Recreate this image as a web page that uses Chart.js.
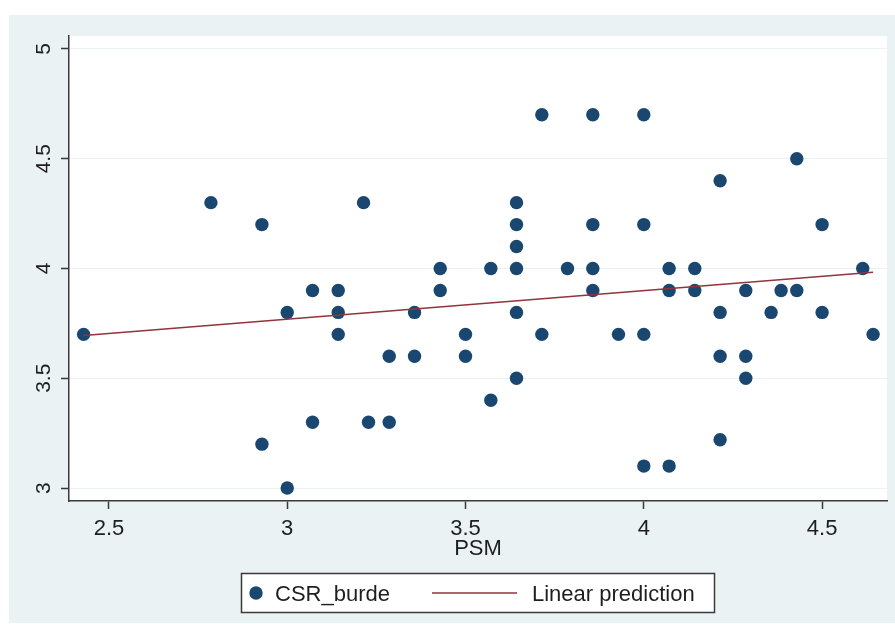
<!DOCTYPE html>
<html>
<head>
<meta charset="utf-8">
<title>CSR_burde x PSM</title>
<script src="https://cdn.jsdelivr.net/npm/chart.js@4.4.1/dist/chart.umd.min.js"></script>
<style>
  body { margin: 0; background: #ffffff; }
  canvas { display: block; }
</style>
</head>
<body>
<canvas id="grafico" width="895" height="624"></canvas>
<script>
// valores (PSM no eixo x, CSR_burde no eixo y)
const psm = [
  2.429, 2.786, 2.929, 2.929, 3.0, 3.0, 3.071, 3.071, 3.143, 3.143, 3.143,
  3.214, 3.228, 3.286, 3.286, 3.357, 3.357, 3.429, 3.429, 3.5, 3.5, 3.571, 3.571,
  3.643, 3.643, 3.643, 3.643, 3.643, 3.643, 3.714, 3.714, 3.786,
  3.857, 3.857, 3.857, 3.857, 3.929, 4.0, 4.0, 4.0, 4.0,
  4.071, 4.071, 4.071, 4.143, 4.143, 4.214, 4.214, 4.214, 4.214,
  4.286, 4.286, 4.286, 4.357, 4.385, 4.429, 4.429, 4.5, 4.5, 4.614, 4.643
]
const csrBurde = [
  3.7, 4.3, 4.2, 3.2, 3.8, 3.0, 3.9, 3.3, 3.9, 3.8, 3.7,
  4.3, 3.3, 3.3, 3.6, 3.6, 3.8, 3.9, 4.0, 3.7, 3.6, 3.4, 4.0,
  4.3, 4.2, 4.1, 4.0, 3.8, 3.5, 4.7, 3.7, 4.0,
  4.7, 4.2, 4.0, 3.9, 3.7, 4.7, 4.2, 3.7, 3.1,
  4.0, 3.9, 3.1, 4.0, 3.9, 4.4, 3.8, 3.6, 3.22,
  3.9, 3.6, 3.5, 3.8, 3.9, 4.5, 3.9, 4.2, 3.8, 4.0, 3.7
]

// extremos da reta de previsao linear
const previsaoX = [2.429, 4.643]
const previsaoY = [3.695, 3.983]

const ticksX = [2.5, 3, 3.5, 4, 4.5]
const rotulosX = ['2.5', '3', '3.5', '4', '4.5']
const ticksY = [3, 3.5, 4, 4.5, 5]
const rotulosY = ['3', '3.5', '4', '4.5', '5']

const fonte = '"Liberation Sans", Arial, sans-serif'
const corTexto = '#1e1e1e'
const corEixo = '#3a3a3a'
const corFundo = '#eaf2f3'

const fundo = {
  id: 'fundo',
  beforeDraw(chart) {
    const ctx = chart.ctx
    const area = chart.chartArea
    ctx.save()
    ctx.fillStyle = '#ffffff'
    ctx.fillRect(0, 0, chart.width, chart.height)
    ctx.fillStyle = corFundo
    ctx.fillRect(9, 15, chart.width - 9, chart.height - 16)
    ctx.fillStyle = '#ffffff'
    ctx.fillRect(area.left, area.top, area.right - area.left, area.bottom - area.top)
    ctx.restore()
  }
}

// rotulos do eixo y na vertical, como no Stata
const rotulosVerticais = {
  id: 'rotulosVerticais',
  afterDraw(chart) {
    const ctx = chart.ctx
    const escala = chart.scales.y
    ctx.save()
    ctx.font = '21px ' + fonte
    ctx.fillStyle = corTexto
    ctx.textAlign = 'center'
    ctx.textBaseline = 'middle'
    escala.ticks.forEach((tick) => {
      ctx.save()
      ctx.translate(44, escala.getPixelForValue(tick.value))
      ctx.rotate(-Math.PI / 2)
      ctx.fillText(tick.label, 0, 0)
      ctx.restore()
    })
    ctx.restore()
  }
}

const legenda = {
  id: 'legenda',
  afterDraw(chart) {
    const ctx = chart.ctx
    const pontos = chart.data.datasets[0]
    const linha = chart.data.datasets[1]
    ctx.save()
    ctx.fillStyle = '#ffffff'
    ctx.fillRect(241, 573, 474, 40)
    ctx.strokeStyle = corEixo
    ctx.lineWidth = 1.5
    ctx.strokeRect(241.5, 573.5, 473, 39)

    ctx.fillStyle = pontos.backgroundColor
    ctx.beginPath()
    ctx.arc(256, 593, pontos.pointRadius, 0, Math.PI * 2)
    ctx.fill()

    ctx.strokeStyle = linha.borderColor
    ctx.lineWidth = linha.borderWidth
    ctx.beginPath()
    ctx.moveTo(432, 593)
    ctx.lineTo(517, 593)
    ctx.stroke()

    ctx.font = '22px ' + fonte
    ctx.fillStyle = corTexto
    ctx.textBaseline = 'alphabetic'
    ctx.fillText(pontos.label, 275, 601)
    ctx.fillText(linha.label, 532, 601)
    ctx.restore()
  }
}

const grafico = document.getElementById('grafico')

const graficoDispersao = new Chart(grafico, {
  type: 'scatter',
  data: {
    datasets: [{
      label: 'CSR_burde',
      data: psm.map((x, i) => ({ x: x, y: csrBurde[i] })),
      backgroundColor: '#1a476f',
      borderColor: '#1a476f',
      pointRadius: 6.7,
      pointHoverRadius: 6.7,
      pointBorderWidth: 0,
      order: 1
    }, {
      label: 'Linear prediction',
      data: previsaoX.map((x, i) => ({ x: x, y: previsaoY[i] })),
      showLine: true,
      borderColor: '#90353b',
      borderWidth: 1.6,
      pointRadius: 0,
      pointHoverRadius: 0,
      order: 0
    }]
  },
  options: {
    responsive: false,
    animation: false,
    devicePixelRatio: 1,
    layout: { padding: { top: 36, right: 8, left: 0, bottom: 0 } },
    plugins: {
      legend: { display: false },
      tooltip: { enabled: false }
    },
    scales: {
      x: {
        type: 'linear',
        min: 2.388,
        max: 4.682,
        afterBuildTicks: (escala) => { escala.ticks = ticksX.map(v => ({ value: v })) },
        afterFit: (escala) => { escala.height = 123 },
        grid: { drawOnChartArea: false, tickLength: 8, tickColor: corEixo, tickWidth: 1.5 },
        border: { color: corEixo, width: 1.5 },
        ticks: {
          padding: 7,
          color: corTexto,
          maxRotation: 0,
          font: { family: fonte, size: 22 },
          callback: (valor, i) => rotulosX[i]
        },
        title: {
          display: true,
          text: 'PSM',
          color: corTexto,
          font: { family: fonte, size: 22 },
          padding: { top: 0, bottom: 62 }
        }
      },
      y: {
        type: 'linear',
        min: 2.941,
        max: 5.059,
        afterBuildTicks: (escala) => { escala.ticks = ticksY.map(v => ({ value: v })) },
        afterFit: (escala) => { escala.width = 69 },
        grid: { color: corFundo, lineWidth: 1, tickLength: 8, tickColor: corEixo, tickWidth: 1.5 },
        border: { color: corEixo, width: 1.5 },
        ticks: {
          display: false,
          callback: (valor, i) => rotulosY[i]
        }
      }
    }
  },
  plugins: [fundo, rotulosVerticais, legenda]
})
</script>
</body>
</html>
